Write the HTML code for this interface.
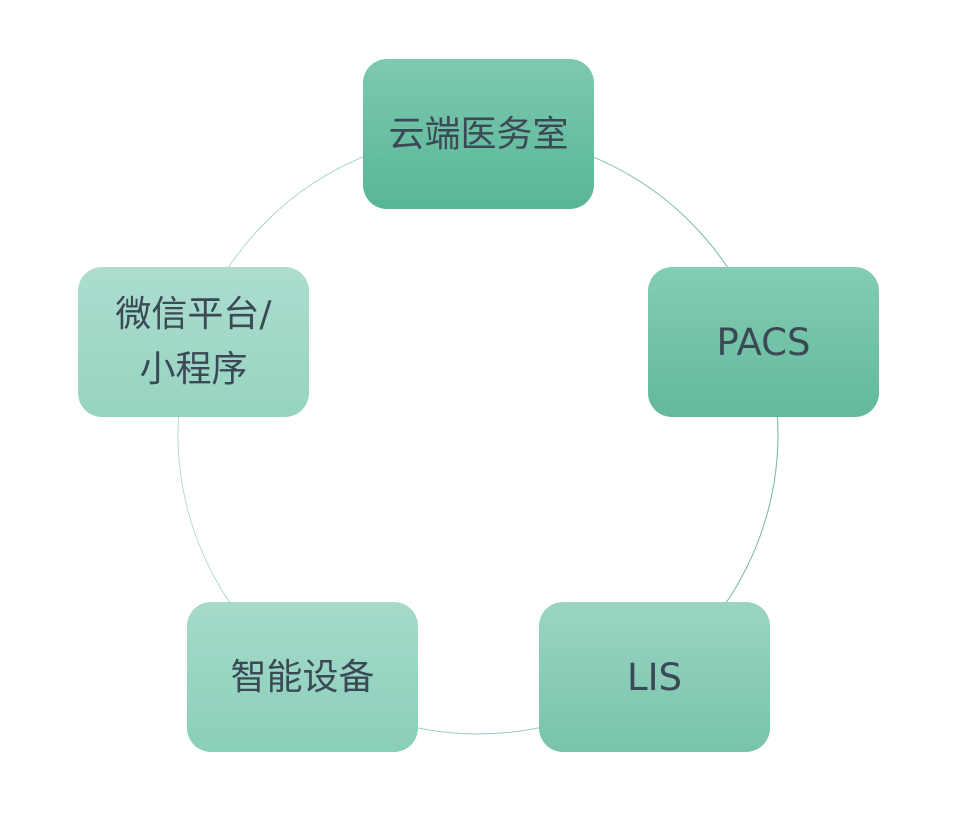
<!DOCTYPE html>
<html><head><meta charset="utf-8"><style>
body{margin:0;width:955px;height:828px;background:#fff;position:relative;overflow:hidden;font-family:"DejaVu Sans","Noto Sans CJK SC",sans-serif;}
.b{position:absolute;width:231px;height:150px;border-radius:24px;display:flex;align-items:center;justify-content:center;text-align:center;color:#3b4955;font-size:36px;line-height:55px;}
.l{font-size:37px}
svg{position:absolute;left:0;top:0}
</style></head><body>
<svg width="955" height="828"><defs><linearGradient id="g" x1="0" y1="0" x2="1" y2="0"><stop offset="0" stop-color="#b9ddd2"/><stop offset="1" stop-color="#6fb89f"/></linearGradient></defs>
<circle cx="478" cy="434" r="300" fill="none" stroke="url(#g)" stroke-width="1"/></svg>
<div class="b" style="left:363px;top:59px;background:linear-gradient(#7dc9b1,#58b695)">云端医务室</div>
<div class="b l" style="left:648px;top:267px;background:linear-gradient(#84ccb5,#62b99b)">PACS</div>
<div class="b l" style="left:539px;top:602px;background:linear-gradient(#9ad5c3,#78c3ab)">LIS</div>
<div class="b" style="left:187px;top:602px;background:linear-gradient(#a6dacb,#8acfba)">智能设备</div>
<div class="b" style="left:78px;top:267px;background:linear-gradient(#acddcf,#97d3c1)">微信平台/<br>小程序</div>
</body></html>
